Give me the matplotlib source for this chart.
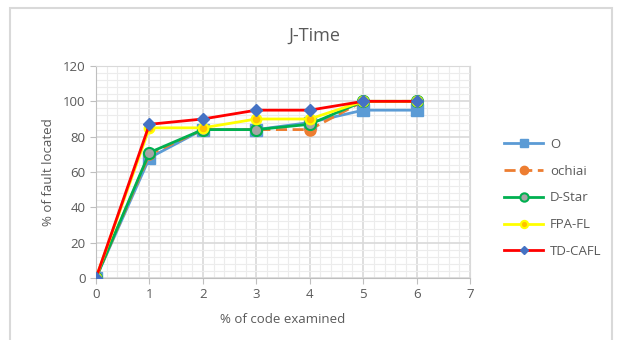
import numpy as np
import matplotlib.pyplot as plt
from matplotlib.patches import Rectangle
from matplotlib.ticker import MultipleLocator

plt.rcParams['font.family'] = ['Open Sans', 'DejaVu Sans']

code_examined = [0, 1, 2, 3, 4, 5, 6]
o_vals = [0, 68, 84, 84, 88, 95, 95]
ochiai_vals = [0, 70, 84, 84, 84, 100, 100]
dstar_vals = [0, 71, 84, 84, 87, 100, 100]
fpafl_vals = [0, 85, 85, 90, 90, 100, 100]
tdcafl_vals = [0, 87, 90, 95, 95, 100, 100]

TEXT = '#595959'

fig = plt.figure(figsize=(6.17, 3.4), dpi=100)
fig.patches.append(Rectangle((10 / 617, -0.05), 602 / 617, 1 - 8 / 340 + 0.05,
                             transform=fig.transFigure, fill=False,
                             edgecolor='#d9d9d9', linewidth=1.5))

ax = fig.add_axes([96 / 617, 1 - 278 / 340, 374 / 617, 212 / 340])

ax.plot(code_examined, o_vals, color='#5B9BD5', lw=2, marker='s', ms=8,
        mfc='#5B9BD5', mec='#5B9BD5', label='O', zorder=3)
ax.plot(code_examined, ochiai_vals, color='#ED7D31', lw=2, ls=(0, (4, 2)),
        marker='o', ms=8, mfc='#ED7D31', mec='#ED7D31', label='ochiai', zorder=4)
ax.plot(code_examined, dstar_vals, color='#00B050', lw=2, marker='o', ms=8,
        mfc='#A5A5A5', mec='#00B050', mew=1.5, label='D-Star', zorder=5)
ax.plot(code_examined, fpafl_vals, color='#FFFF00', lw=2, marker='o', ms=7,
        mfc='#FFC000', mec='#FFFF00', mew=1.5, label='FPA-FL', zorder=6)
ax.plot(code_examined, tdcafl_vals, color='#FF0000', lw=2, marker='D', ms=6,
        mfc='#4472C4', mec='#4472C4', label='TD-CAFL', zorder=7)

ax.set_xlim(0, 7)
ax.set_ylim(0, 120)
ax.xaxis.set_major_locator(MultipleLocator(1))
ax.xaxis.set_minor_locator(MultipleLocator(0.2))
ax.yaxis.set_major_locator(MultipleLocator(20))
ax.yaxis.set_minor_locator(MultipleLocator(4))
ax.grid(which='major', color='#d9d9d9', lw=1.2)
ax.grid(which='minor', color='#ececec', lw=0.8)
ax.set_axisbelow(True)

for side in ['top', 'right']:
    ax.spines[side].set_color('#d9d9d9')
for side in ['left', 'bottom']:
    ax.spines[side].set_color('#bfbfbf')
ax.tick_params(which='major', colors='#bfbfbf', labelcolor=TEXT, labelsize=9.5, length=4)
ax.tick_params(which='minor', length=0)

ax.set_xlabel('% of code examined', color=TEXT, fontsize=9.5, labelpad=8)
ax.set_ylabel('% of fault located', color=TEXT, fontsize=9.5, labelpad=6)
fig.text(314 / 617, 1 - 36 / 340, 'J-Time', color=TEXT,
         fontsize=13, ha='center', va='center')

fig.legend(loc='center left', bbox_to_anchor=(492 / 617, 0.418), frameon=False,
           fontsize=9.5, labelcolor=TEXT, handlelength=3.0, handletextpad=0.5,
           labelspacing=1.05, markerscale=0.75)

fig.savefig('out.png', dpi=100)
